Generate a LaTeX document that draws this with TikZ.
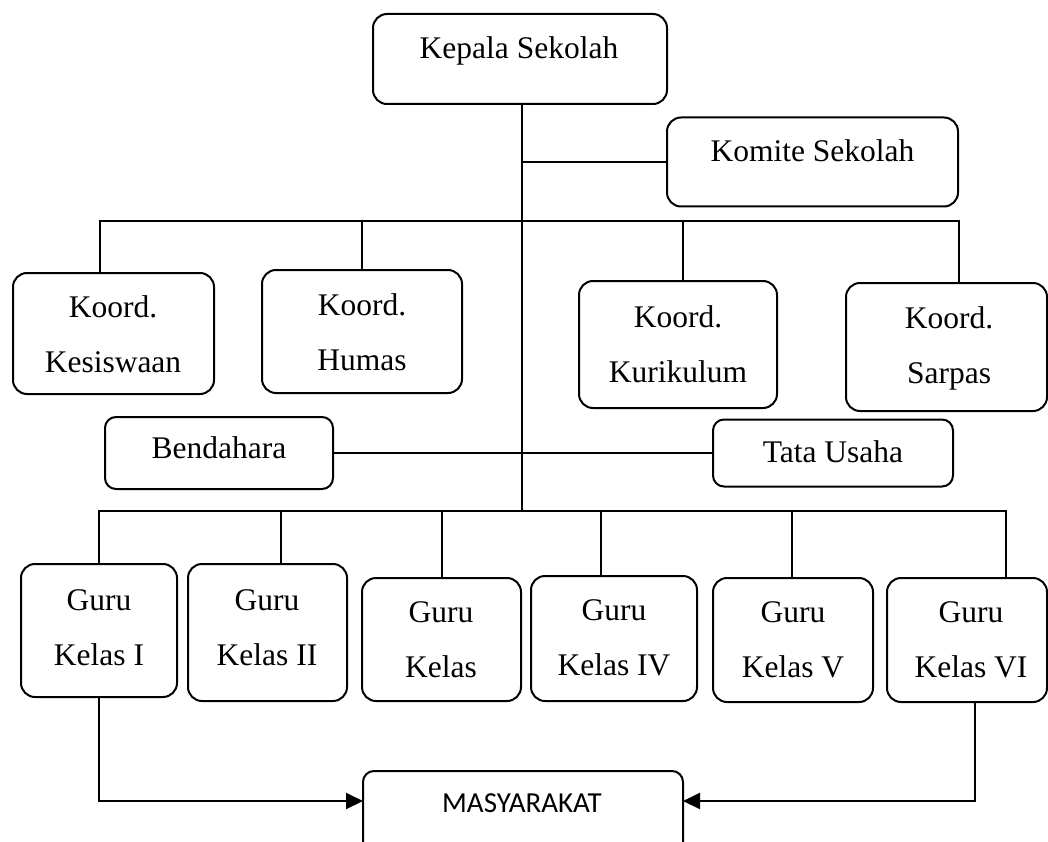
\documentclass[tikz,border=0pt]{standalone}
\usepackage{fontspec}
\setmainfont{Liberation Serif}
\newfontfamily\calibfont{Carlito}
\usetikzlibrary{arrows.meta}
\begin{document}
\begin{tikzpicture}[x=1pt,y=-1pt,
  box/.style={draw, line width=2pt, rounded corners=14pt, inner sep=0pt, outer sep=0pt},
  lbl/.style={anchor=base, align=center, font=\fontsize{31.5}{55}\selectfont, inner sep=0pt},
  conn/.style={line width=2pt},
  arr/.style={conn, -{Triangle[length=17pt,width=16pt]}}]
\useasboundingbox (0,0) rectangle (1048,842);
% boxes
\node[box, minimum width=294pt, minimum height=90pt] (kepala) at (520,59) {};
\node[box, minimum width=291pt, minimum height=89pt] (komite) at (812.5,162) {};
\node[box, minimum width=201pt, minimum height=121pt] (kes) at (113.5,333.5) {};
\node[box, minimum width=200pt, minimum height=123pt] (hum) at (362,331.5) {};
\node[box, minimum width=198pt, minimum height=127pt] (kur) at (678,344.5) {};
\node[box, minimum width=201pt, minimum height=128pt] (sar) at (946.5,347) {};
\node[box, minimum width=228pt, minimum height=72pt, rounded corners=11pt] (bend) at (219,453) {};
\node[box, minimum width=240pt, minimum height=67pt, rounded corners=11pt] (tata) at (833,453) {};
\node[box, minimum width=156pt, minimum height=133pt] (g1) at (99,630.5) {};
\node[box, minimum width=159pt, minimum height=137pt] (g2) at (267.5,632.5) {};
\node[box, minimum width=159pt, minimum height=123pt] (g3) at (441.5,639.5) {};
\node[box, minimum width=166pt, minimum height=125pt] (g4) at (614,638.5) {};
\node[box, minimum width=160pt, minimum height=124pt] (g5) at (793,640) {};
\node[box, minimum width=160pt, minimum height=124pt] (g6) at (967,640) {};
\node[box, minimum width=320pt, minimum height=89pt, rounded corners=11pt] (mas) at (523,815.5) {};
% labels (anchor base = baseline of last line)
\node[lbl] (t-kepala) at (519,59) {Kepala Sekolah};
\node[lbl] (t-komite) at (812.5,162) {Komite Sekolah};
\node[lbl] (t-kes) at (113,372) {Koord.\\Kesiswaan};
\node[lbl] (t-hum) at (362,370) {Koord.\\Humas};
\node[lbl] (t-kur) at (678,382) {Koord.\\Kurikulum};
\node[lbl] (t-sar) at (949,383) {Koord.\\Sarpas};
\node[lbl] (t-bend) at (219,458) {Bendahara};
\node[lbl] (t-tata) at (833,462) {Tata Usaha};
\node[lbl] (t-g1) at (99,665) {Guru\\Kelas I};
\node[lbl] (t-g2) at (267,665) {Guru\\Kelas II};
\node[lbl] (t-g3) at (441,677) {Guru\\Kelas};
\node[lbl] (t-g4) at (614,675) {Guru\\Kelas IV};
\node[lbl] (t-g5) at (793,677) {Guru\\Kelas V};
\node[lbl] (t-g6) at (971,677) {Guru\\Kelas VI};
\node[anchor=base, inner sep=0pt, font=\calibfont\fontsize{29}{34}\selectfont] (t-mas) at (522,812) {MASYARAKAT};
% coordinates
\coordinate (trunkB) at (522,511);
\coordinate (bar1L) at (100,221);
\coordinate (bar1R) at (959,221);
\coordinate (k3) at (683,221);
\coordinate (bar2L) at (99,511);
\coordinate (bar2R) at (1006,511);
\coordinate (c2) at (281,511);
\coordinate (c3) at (442,511);
\coordinate (c4) at (601,511);
\coordinate (c5) at (792,511);
\coordinate (arrL) at (99,801);
\coordinate (arrR) at (975,801);
% connectors
\draw[conn] (kepala.south -| trunkB) -- (trunkB);
\draw[conn] (komite.west) -- (komite.west -| trunkB);
\draw[conn] (bar1L |- kes.north) -- (bar1L) -- (bar1R) -- (bar1R |- sar.north);
\draw[conn] (hum.north) -- (hum.north |- bar1L);
\draw[conn] (k3) -- (k3 |- kur.north);
\draw[conn] (bend.east) -- (bend.east -| trunkB);
\draw[conn] (tata.west) -- (tata.west -| trunkB);
\draw[conn] (bar2L |- g1.north) -- (bar2L) -- (bar2R) -- (bar2R |- g6.north);
\draw[conn] (c2) -- (c2 |- g2.north);
\draw[conn] (c3) -- (c3 |- g3.north);
\draw[conn] (c4) -- (c4 |- g4.north);
\draw[conn] (c5) -- (c5 |- g5.north);
\draw[arr] (g1.south) -- (arrL) -- (arrL -| mas.west);
\draw[arr] (arrR |- g6.south) -- (arrR) -- (arrR -| mas.east);
\end{tikzpicture}
\end{document}
